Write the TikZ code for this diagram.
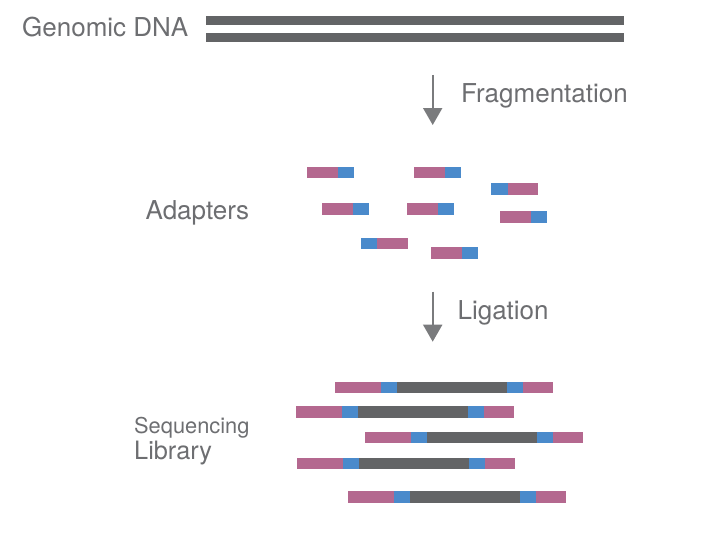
\documentclass[tikz,border=0pt]{standalone}
\usepackage{fontspec}
\setmainfont{TeX Gyre Heros}
\usetikzlibrary{arrows.meta}
\definecolor{dnagray}{HTML}{636466}
\definecolor{adpink}{HTML}{B4688F}
\definecolor{adblue}{HTML}{4A8ACB}
\definecolor{txtgray}{HTML}{6D6E71}
\tikzset{
  lbl/.style={inner sep=0pt, anchor=base west, text=txtgray, font=\fontsize{26}{31}\selectfont},
  steparrow/.style={draw=dnagray!85, line width=2pt, -{Triangle[width=19pt,length=17pt]}},
  pinkseg/.style={fill=adpink},
  blueseg/.style={fill=adblue},
  grayseg/.style={fill=dnagray},
}
% adapter pink-blue at (x,y)
\newcommand{\adPB}[2]{%
  \fill[pinkseg] (#1,#2) rectangle ++(31,11.7);
  \fill[blueseg] (#1+31,#2) rectangle ++(16,11.7);}
\newcommand{\adBP}[2]{%
  \fill[blueseg] (#1,#2) rectangle ++(16.5,11.7);
  \fill[pinkseg] (#1+16.5,#2) rectangle ++(30.5,11.7);}
\newcommand{\libRow}[2]{%
  \fill[pinkseg] (#1,#2) rectangle ++(46,11.7);
  \fill[blueseg] (#1+46,#2) rectangle ++(16,11.7);
  \fill[grayseg] (#1+62,#2) rectangle ++(110,11.7);
  \fill[blueseg] (#1+172,#2) rectangle ++(16,11.7);
  \fill[pinkseg] (#1+188,#2) rectangle ++(30,11.7);}
\begin{document}
\begin{tikzpicture}[x=1pt,y=-1pt]
\useasboundingbox (0,0) rectangle (723,543);
% Genomic DNA
\node[lbl] (gdna) at (22,36.7) {Genomic DNA};
\fill[grayseg] (206,16) rectangle (624,25);
\fill[grayseg] (206,33) rectangle (624,42);
% Fragmentation arrow
\coordinate (f1) at (432.7,75);
\coordinate (f2) at (432.7,125);
\draw[steparrow] (f1) -- (f2);
\node[lbl] (frag) at (461,102.3) {Fragmentation};
% Adapters
\node[lbl] (adlbl) at (145.5,219.3) {Adapters};
\adPB{307.3}{166.7}
\adPB{414.3}{166.7}
\adBP{491}{183.3}
\adPB{322.3}{203.3}
\adPB{407.3}{203.3}
\adPB{500.3}{211}
\adBP{360.7}{237.7}
\adPB{431.3}{247.3}
% Ligation arrow
\coordinate (l1) at (432.7,291.7);
\coordinate (l2) at (432.7,341.7);
\draw[steparrow] (l1) -- (l2);
\node[lbl] (lig) at (457.5,319) {Ligation};
% Sequencing library
\node[lbl, font=\fontsize{21.8}{26}\selectfont] (seq) at (134,433.3) {Sequencing};
\node[lbl, font=\fontsize{25.3}{30}\selectfont] (lib) at (134,459.3) {Library};
\libRow{335}{381.7}
\libRow{296}{406}
\libRow{365.3}{431.7}
\libRow{296.7}{457.7}
\libRow{348.3}{491}
\end{tikzpicture}
\end{document}
